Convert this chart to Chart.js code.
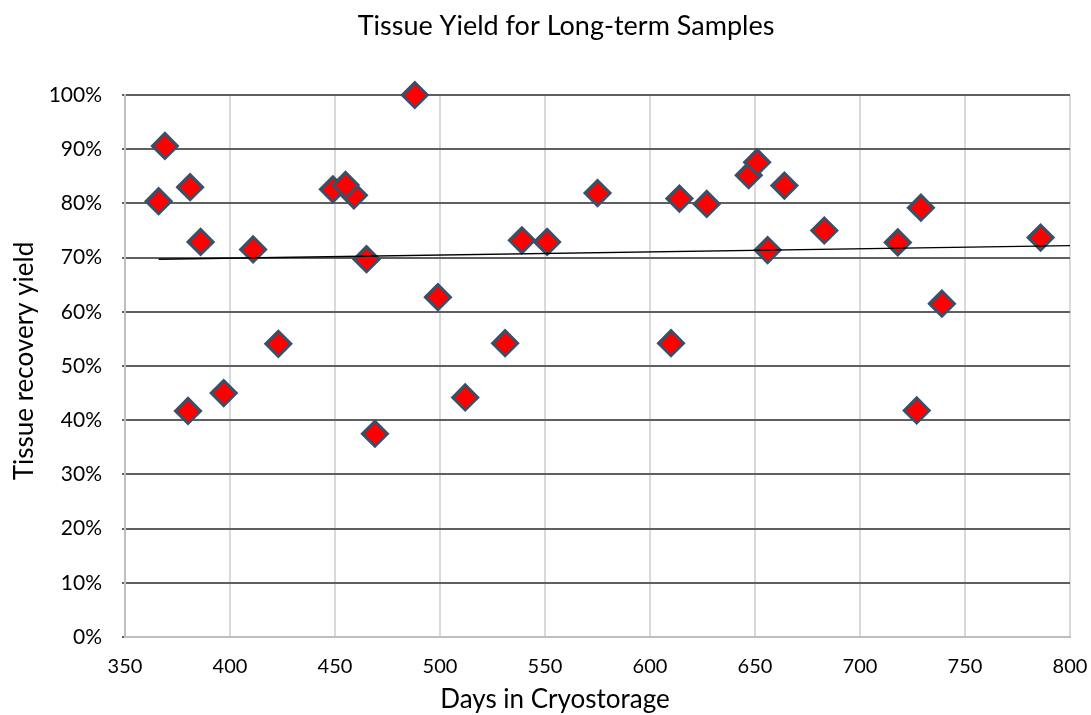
<!DOCTYPE html>
<html>
<head>
<meta charset="utf-8">
<script src="https://cdn.jsdelivr.net/npm/chart.js@4/dist/chart.umd.min.js"></script>
<style>
html,body{margin:0;padding:0;background:#fff;}
#wrap{width:1091px;height:715px;}
</style>
</head>
<body>
<div id="wrap"><canvas id="c" width="1091" height="715"></canvas></div>
<script>
// Days in cryostorage for each sample
const days = [366, 369, 380, 381, 386, 397, 411, 423, 449, 459, 455, 465, 469, 488, 499, 512, 531, 539, 551, 575, 610, 614, 627, 647, 651, 656, 664, 683, 718, 727, 729, 739, 786];
// Tissue recovery yield (%)
const yields = [80.4, 90.6, 41.7, 83.0, 72.9, 45.0, 71.5, 54.1, 82.6, 81.5, 83.4, 69.7, 37.5, 100, 62.7, 44.2, 54.2, 73.2, 72.9, 81.9, 54.2, 80.9, 79.9, 85.2, 87.6, 71.4, 83.3, 75.0, 72.8, 41.8, 79.2, 61.5, 73.7];
// Linear trendline endpoints
const trendDays = [366, 800];
const trendYields = [69.7, 72.2];
// Axis ticks
const xTicks = [350, 400, 450, 500, 550, 600, 650, 700, 750, 800];
const yTicks = [0, 10, 20, 30, 40, 50, 60, 70, 80, 90, 100];

const titleText = 'Tissue Yield for Long-term Samples';
const xTitleText = 'Days in Cryostorage';
const yTitleText = 'Tissue recovery yield';
const FONT = 'Lato, "Open Sans", sans-serif';

const textPlugin = {
  id: 'excelTexts',
  afterDraw(chart) {
    const ctx = chart.ctx;
    ctx.save();
    ctx.fillStyle = '#000';
    ctx.textAlign = 'center';
    ctx.textBaseline = 'alphabetic';
    ctx.font = '27px ' + FONT;
    ctx.fillText(titleText, 566, 35);
    ctx.font = '26px ' + FONT;
    ctx.fillText(xTitleText, 555, 708);
    ctx.translate(33, 361);
    ctx.rotate(-Math.PI / 2);
    ctx.fillText(yTitleText, 0, 0);
    ctx.restore();
  }
};
const bgPlugin = {
  id: 'bg',
  beforeDraw(chart) {
    const ctx = chart.ctx;
    ctx.save();
    ctx.fillStyle = '#fff';
    ctx.fillRect(0, 0, chart.width, chart.height);
    ctx.restore();
  }
};

new Chart(document.getElementById('c'), {
  type: 'scatter',
  data: {
    datasets: [
      {
        type: 'line',
        label: 'Trend',
        data: trendDays.map((d, i) => ({x: d, y: trendYields[i]})),
        borderColor: '#000',
        borderWidth: 1.3,
        pointRadius: 0,
        fill: false,
        order: 0
      },
      {
        label: 'Yield',
        data: days.map((d, i) => ({x: d, y: yields[i]})),
        pointStyle: 'rectRot',
        pointRadius: 12.5,
        pointHoverRadius: 12.5,
        backgroundColor: '#ff0000',
        borderColor: '#3b4f67',
        borderWidth: 3,
        clip: false,
        order: 1
      }
    ]
  },
  options: {
    responsive: false,
    animation: false,
    devicePixelRatio: 1,
    layout: { padding: { left: 0, right: 21, top: 95, bottom: 0 } },
    plugins: {
      legend: { display: false },
      tooltip: { enabled: false },
      title: { display: false }
    },
    scales: {
      x: {
        type: 'linear',
        min: 350, max: 800,
        afterBuildTicks(scale) { scale.ticks = xTicks.map(v => ({value: v})); },
        afterFit(scale) { scale.height = 78; scale.paddingLeft = 0; scale.paddingRight = 0; },
        grid: { color: '#d9d9d9', lineWidth: 2, drawTicks: false },
        border: { color: '#bfbfbf', width: 2 },
        ticks: { font: { family: FONT, size: 20 }, color: '#000', padding: 18, maxRotation: 0 },
        title: { display: false }
      },
      y: {
        type: 'linear',
        min: 0, max: 100,
        afterBuildTicks(scale) { scale.ticks = yTicks.map(v => ({value: v})); },
        afterFit(scale) { scale.width = 125; scale.paddingTop = 0; scale.paddingBottom = 0; },
        grid: { color: '#5f5f5f', lineWidth: 2, tickLength: 3, tickColor: '#5f5f5f' },
        border: { color: '#bfbfbf', width: 2 },
        ticks: { font: { family: FONT, size: 21 }, color: '#000', padding: 20, callback: v => v + '%' },
        title: { display: false }
      }
    }
  },
  plugins: [bgPlugin, textPlugin]
});
</script>
</body>
</html>
